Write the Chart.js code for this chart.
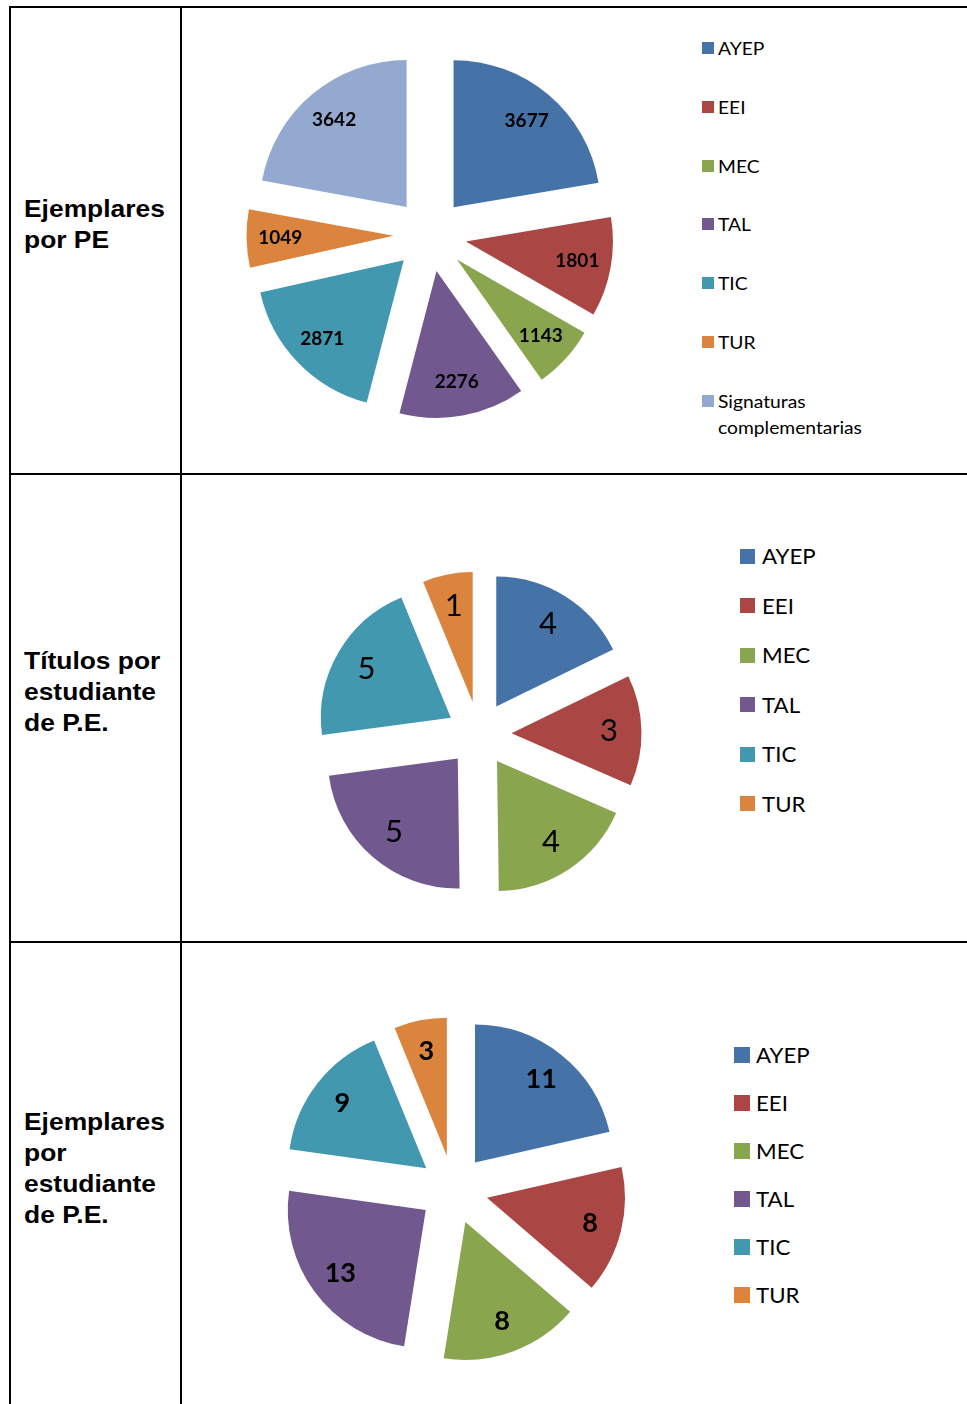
<!DOCTYPE html>
<html>
<head>
<meta charset="utf-8">
<script src="https://cdn.jsdelivr.net/npm/chart.js"></script>
<style>
  html, body { margin: 0; padding: 0; background: #fff; }
  body { width: 967px; height: 1404px; position: relative; overflow: hidden; }
  .line { position: absolute; background: #000; }
  .rowlabel { position: absolute; left: 24px; width: 135px; font-family: "Liberation Sans", Arial, sans-serif;
              font-weight: bold; font-size: 24px; line-height: 31px; color: #000;
              transform: scaleX(1.1); transform-origin: left top; }
  canvas { position: absolute; }
  .legend-item { position: absolute; font-family: Lato, "Open Sans", sans-serif; color: #000; }
  .legend-box { position: absolute; left: 0; }
  .legend-text { transform-origin: left top; }
</style>
</head>
<body>
<script>
// ---- Data ----
const categoriesPE = ['AYEP', 'EEI', 'MEC', 'TAL', 'TIC', 'TUR', 'Signaturas complementarias'];
const ejemplaresPorPE = [3677, 1801, 1143, 2276, 2871, 1049, 3642];

const categories = ['AYEP', 'EEI', 'MEC', 'TAL', 'TIC', 'TUR'];
const titulosPorEstudiante = [4.0, 3.1, 4.1, 5.2, 4.7, 1.4];
const ejemplaresPorEstudiante = [11.1, 7.7, 8.4, 12.8, 8.6, 3.2];

const sliceColors = ['#4572A7', '#AA4643', '#89A54E', '#71588F', '#4198AF', '#DB843D', '#93A9CF'];

const rowLabels = ['Ejemplares por PE', 'Títulos por estudiante de P.E.', 'Ejemplares por estudiante de P.E.'];

// ---- Table frame ----
function addLine(l, t, w, h) {
  const d = document.createElement('div');
  d.className = 'line';
  Object.assign(d.style, { left: l + 'px', top: t + 'px', width: w + 'px', height: h + 'px' });
  document.body.appendChild(d);
}
addLine(9, 6, 958, 2);
addLine(9, 6, 2, 1398);
addLine(180, 6, 2, 1398);
addLine(9, 473, 958, 2);
addLine(9, 941, 958, 2);

const labelTops = [193, 645, 1106];
rowLabels.forEach((txt, i) => {
  const d = document.createElement('div');
  d.className = 'rowlabel';
  d.style.top = labelTops[i] + 'px';
  d.textContent = txt;
  document.body.appendChild(d);
});

// ---- Exploded pie plugin (draws library arcs translated outward + value labels) ----
const explodePlugin = {
  id: 'explode',
  beforeDatasetsDraw(chart, args, opts) {
    const ctx = chart.ctx;
    const meta = chart.getDatasetMeta(0);
    const values = chart.data.datasets[0].data;
    const dist = opts.distance;
    meta.data.forEach(arc => {
      const mid = (arc.startAngle + arc.endAngle) / 2;
      ctx.save();
      ctx.translate(Math.cos(mid) * dist, Math.sin(mid) * dist);
      arc.draw(ctx);
      ctx.restore();
    });
    ctx.save();
    ctx.font = opts.font;
    ctx.fillStyle = '#000';
    ctx.textAlign = 'center';
    ctx.textBaseline = 'middle';
    meta.data.forEach((arc, i) => {
      const mid = (arc.startAngle + arc.endAngle) / 2;
      const rr = dist + opts.labelFactor * arc.outerRadius;
      ctx.fillText(String(Math.round(values[i])), arc.x + Math.cos(mid) * rr, arc.y + Math.sin(mid) * rr);
    });
    ctx.restore();
    return false;
  }
};

function makePie(cfg) {
  const c = document.createElement('canvas');
  c.width = cfg.size; c.height = cfg.size;
  c.style.left = (cfg.cx - cfg.size / 2) + 'px';
  c.style.top = (cfg.cy - cfg.size / 2) + 'px';
  c.style.width = cfg.size + 'px'; c.style.height = cfg.size + 'px';
  document.body.appendChild(c);
  new Chart(c, {
    type: 'pie',
    data: {
      labels: cfg.labels,
      datasets: [{ data: cfg.values, backgroundColor: sliceColors.slice(0, cfg.values.length), borderWidth: 0 }]
    },
    options: {
      responsive: false,
      animation: false,
      events: [],
      radius: cfg.radius,
      layout: { padding: 0 },
      plugins: {
        legend: { display: false },
        tooltip: { enabled: false },
        explode: { distance: cfg.distance, labelFactor: cfg.labelFactor, font: cfg.font }
      }
    },
    plugins: [explodePlugin]
  });
  // HTML legend
  cfg.labels.forEach((lab, i) => {
    const item = document.createElement('div');
    item.className = 'legend-item';
    Object.assign(item.style, {
      left: cfg.legend.x + 'px',
      top: (cfg.legend.y0 + i * cfg.legend.step - cfg.legend.lh / 2) + 'px',
      fontSize: cfg.legend.fontSize + 'px',
      lineHeight: cfg.legend.lh + 'px'
    });
    const box = document.createElement('span');
    box.className = 'legend-box';
    Object.assign(box.style, {
      width: cfg.legend.box + 'px', height: cfg.legend.box + 'px',
      top: ((cfg.legend.lh - cfg.legend.box) / 2) + 'px',
      background: sliceColors[i]
    });
    const t = document.createElement('div');
    t.className = 'legend-text';
    t.style.marginLeft = cfg.legend.textOffset + 'px';
    t.style.width = cfg.legend.textWidth + 'px';
    t.style.transform = 'scaleX(' + cfg.legend.stretch + ')';
    t.textContent = lab;
    item.appendChild(box);
    item.appendChild(t);
    document.body.appendChild(item);
  });
}

makePie({
  labels: categoriesPE, values: ejemplaresPorPE,
  cx: 430, cy: 235, size: 388, radius: 147, distance: 36.5, labelFactor: 0.77,
  font: 'bold 19px Lato',
  legend: { x: 702, y0: 48, step: 58.8, lh: 26, fontSize: 18, box: 12, textOffset: 16, textWidth: 150, stretch: 1.07 }
});
makePie({
  labels: categories, values: titulosPorEstudiante,
  cx: 479, cy: 734, size: 346, radius: 130, distance: 32.5, labelFactor: 0.75,
  font: '31px Lato',
  legend: { x: 740, y0: 556, step: 49.5, lh: 30, fontSize: 21, box: 15, textOffset: 22, textWidth: 150, stretch: 1.06 }
});
makePie({
  labels: categories, values: ejemplaresPorEstudiante,
  cx: 453.5, cy: 1189.5, size: 365, radius: 138, distance: 34.5, labelFactor: 0.77,
  font: 'bold 27px Lato',
  legend: { x: 734, y0: 1055, step: 48, lh: 30, fontSize: 21, box: 16, textOffset: 22, textWidth: 150, stretch: 1.06 }
});
</script>
</body>
</html>
